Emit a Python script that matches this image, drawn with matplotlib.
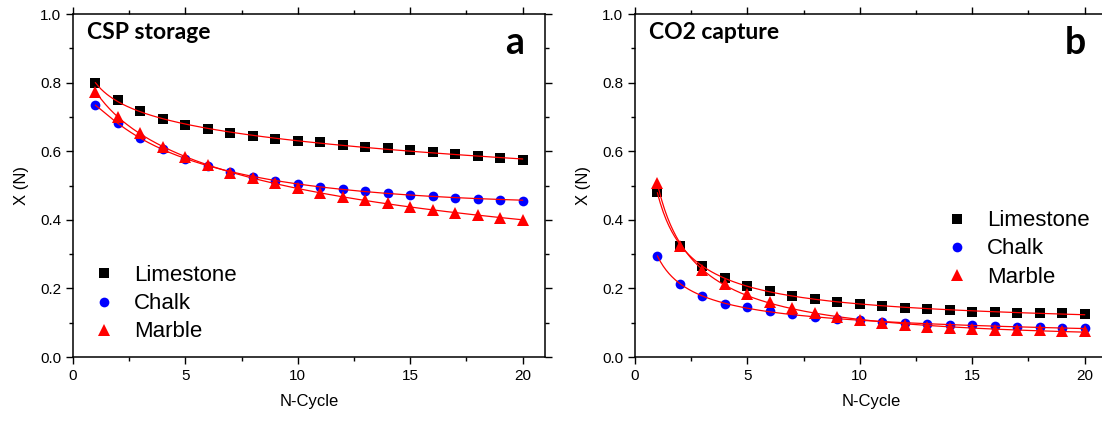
import numpy as np
import matplotlib
matplotlib.use("Agg")
import matplotlib.pyplot as plt
from matplotlib.ticker import MultipleLocator, FormatStrFormatter

plt.rcParams["font.family"] = ["Liberation Sans", "DejaVu Sans"]

cycles = np.arange(1, 21)

# panel a: CSP storage
csp_limestone = [0.798, 0.749, 0.717, 0.693, 0.676, 0.664, 0.654, 0.645, 0.637, 0.630,
                 0.626, 0.618, 0.613, 0.608, 0.603, 0.597, 0.592, 0.585, 0.579, 0.573]
csp_chalk = [0.734, 0.681, 0.639, 0.606, 0.578, 0.557, 0.539, 0.526, 0.514, 0.504,
             0.496, 0.490, 0.483, 0.478, 0.473, 0.469, 0.465, 0.462, 0.458, 0.456]
csp_marble = [0.774, 0.701, 0.652, 0.613, 0.582, 0.560, 0.537, 0.521, 0.506, 0.492,
              0.479, 0.467, 0.458, 0.448, 0.438, 0.429, 0.421, 0.413, 0.406, 0.399]

# panel b: CO2 capture
cc_limestone = [0.480, 0.324, 0.265, 0.231, 0.208, 0.192, 0.178, 0.169, 0.161, 0.155,
                0.149, 0.144, 0.140, 0.136, 0.132, 0.130, 0.129, 0.128, 0.127, 0.126]
cc_chalk = [0.295, 0.212, 0.178, 0.156, 0.145, 0.133, 0.124, 0.117, 0.110, 0.107,
            0.103, 0.100, 0.097, 0.094, 0.092, 0.089, 0.087, 0.087, 0.085, 0.084]
cc_marble = [0.508, 0.324, 0.254, 0.212, 0.184, 0.161, 0.144, 0.129, 0.118, 0.108,
             0.100, 0.093, 0.088, 0.085, 0.083, 0.080, 0.079, 0.078, 0.077, 0.076]

labels = ["Limestone", "Chalk", "Marble"]
markers = ["s", "o", "^"]
msizes = [6.5, 7, 8]
colors = ["black", "#0000ff", "#ff0000"]


def smooth_fit(y):
    # cubic in log(N) through the measured points
    p = np.polyfit(np.log(cycles), y, 3)
    nn = np.linspace(1, 20, 300)
    return nn, np.polyval(p, np.log(nn))


fig = plt.figure(figsize=(11.02, 4.21), dpi=100)
ax1 = fig.add_axes([0.0662, 0.152, 0.4284, 0.8147])
ax2 = fig.add_axes([0.5762, 0.152, 0.4284, 0.8147])

panels = [
    (ax1, [csp_limestone, csp_chalk, csp_marble], "CSP storage", "a", (0.042, 0.155)),
    (ax2, [cc_limestone, cc_chalk, cc_marble], "CO2 capture", "b", (0.659, 0.315)),
]

for ax, series, title, letter, leg_pos in panels:
    for y, lab, m, ms, c in zip(series, labels, markers, msizes, colors):
        ax.plot(cycles, y, linestyle="none", marker=m, markersize=ms, color=c,
                markeredgewidth=0, label=lab, zorder=3)
        nn, fit = smooth_fit(y)
        ax.plot(nn, fit, color="red", lw=0.9, zorder=4)

    ax.set_xlim(0, 21)
    ax.set_ylim(0, 1.0)
    ax.xaxis.set_major_locator(MultipleLocator(5))
    ax.xaxis.set_minor_locator(MultipleLocator(2.5))
    ax.yaxis.set_major_locator(MultipleLocator(0.2))
    ax.yaxis.set_minor_locator(MultipleLocator(0.1))
    ax.yaxis.set_major_formatter(FormatStrFormatter("%.1f"))
    ax.tick_params(which="both", direction="out", top=True, right=True,
                   labeltop=False, labelright=False, width=1.0, labelsize=11)
    ax.tick_params(which="major", length=5)
    ax.tick_params(which="minor", length=3)
    for sp in ax.spines.values():
        sp.set_linewidth(1.1)

    ax.set_xlabel("N-Cycle", fontsize=12, labelpad=8)
    ax.set_ylabel("X (N)", fontsize=12, labelpad=8)

    ax.text(0.03, 0.945, title, transform=ax.transAxes, fontsize=16.5,
            fontweight="bold", family=["Lato", "DejaVu Sans"], va="center", ha="left")
    ax.text(0.955, 0.915, letter, transform=ax.transAxes, fontsize=27,
            fontweight="bold", family=["Lato", "DejaVu Sans"], va="center", ha="right")

    ax.legend(loc="center left", bbox_to_anchor=leg_pos, frameon=False,
              handlelength=1.0, handletextpad=0.85, borderpad=0, borderaxespad=0,
              labelspacing=0.32, prop={"size": 16})

fig.savefig("out.png", dpi=100)
